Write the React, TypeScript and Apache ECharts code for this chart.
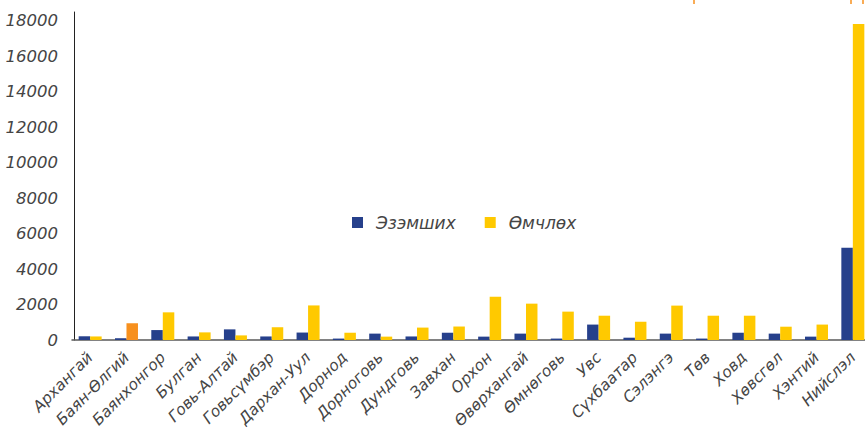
import React, { useEffect, useRef } from "react";
import * as echarts from "echarts";

const categories = [
  "Архангай", "Баян-Өлгий", "Баянхонгор", "Булган", "Говь-Алтай", "Говьсүмбэр",
  "Дархан-Уул", "Дорнод", "Дорноговь", "Дундговь", "Завхан", "Орхон",
  "Өвөрхангай", "Өмнөговь", "Увс", "Сүхбаатар", "Сэлэнгэ", "Төв",
  "Ховд", "Хөвсгөл", "Хэнтий", "Нийслэл",
];
const ezemshikh = [
  210, 100, 560, 200, 600, 200, 420, 80, 360, 200, 410, 190,
  360, 80, 870, 130, 360, 80, 410, 360, 190, 5200,
];
const omchlokh = [
  200, 950, 1560, 430, 260, 720, 1950, 410, 190, 700, 760, 2440,
  2050, 1600, 1370, 1030, 1940, 1370, 1370, 750, 870, 17830,
];
const highlightIndex = 1;
const yTicks = [0, 2000, 4000, 6000, 8000, 10000, 12000, 14000, 16000, 18000];

const BLUE = "#26408B";
const YELLOW = "#FFC900";
const ORANGE = "#F7901E";
const FONT = "'DejaVu Sans', sans-serif";
const TEXT = "#454545";

export default function App() {
  const ref = useRef<HTMLDivElement>(null);
  useEffect(() => {
    if (!ref.current) return;
    const chart = echarts.init(ref.current, null, { renderer: "svg" });
    chart.setOption({
      animation: false,
      backgroundColor: "#ffffff",
      grid: {
        left: 72,
        top: 12,
        width: 799,
        height: 328,
        containLabel: false,
        outerBoundsMode: "none",
      },
      legend: {
        left: 352,
        top: 214,
        padding: 0,
        icon: "rect",
        itemWidth: 11,
        itemHeight: 11,
        itemGap: 29,
        textStyle: { fontFamily: FONT, fontSize: 17, fontStyle: "oblique", color: TEXT, padding: [0, 0, 0, 8] },
        data: ["Эзэмших", "Өмчлөх"],
      },
      xAxis: {
        type: "category",
        data: categories,
        axisTick: { show: false },
        axisLine: { lineStyle: { color: "#595959", width: 1.5 } },
        axisLabel: {
          rotate: 45,
          interval: 0,
          margin: 15,
          fontFamily: FONT,
          fontSize: 15.5,
          fontStyle: "oblique",
          color: TEXT,
        },
      },
      yAxis: {
        type: "value",
        min: yTicks[0],
        max: 18500,
        interval: yTicks[1] - yTicks[0],
        offset: -2,
        splitLine: { show: false },
        axisTick: { show: false },
        axisLine: { show: true, lineStyle: { color: "#222222", width: 1 } },
        axisLabel: {
          margin: 16,
          fontFamily: FONT,
          fontSize: 16.5,
          fontStyle: "oblique",
          color: TEXT,
          formatter: (v: number) => (yTicks.indexOf(v) >= 0 ? String(v) : ""),
        },
      },
      series: [
        {
          name: "Эзэмших",
          type: "bar",
          data: ezemshikh,
          barWidth: 11.5,
          barGap: "0%",
          itemStyle: { color: BLUE },
        },
        {
          name: "Өмчлөх",
          type: "bar",
          data: omchlokh.map((v, i) =>
            i === highlightIndex ? { value: v, itemStyle: { color: ORANGE } } : v
          ),
          barWidth: 11.5,
          itemStyle: { color: YELLOW },
        },
      ],
      graphic: [
        { type: "line", shape: { x1: 694, y1: 0, x2: 694, y2: 4 }, style: { stroke: ORANGE, lineWidth: 1.5 } },
        { type: "line", shape: { x1: 851, y1: 0, x2: 851, y2: 4 }, style: { stroke: ORANGE, lineWidth: 1.5 } },
        { type: "line", shape: { x1: 863, y1: 0, x2: 863, y2: 4 }, style: { stroke: ORANGE, lineWidth: 1.5 } },
      ],
    });
    return () => chart.dispose();
  }, []);
  return (
    <div
      ref={ref}
      style={{ position: "fixed", left: 0, top: 0, width: 865, height: 433, background: "#fff" }}
    />
  );
}
